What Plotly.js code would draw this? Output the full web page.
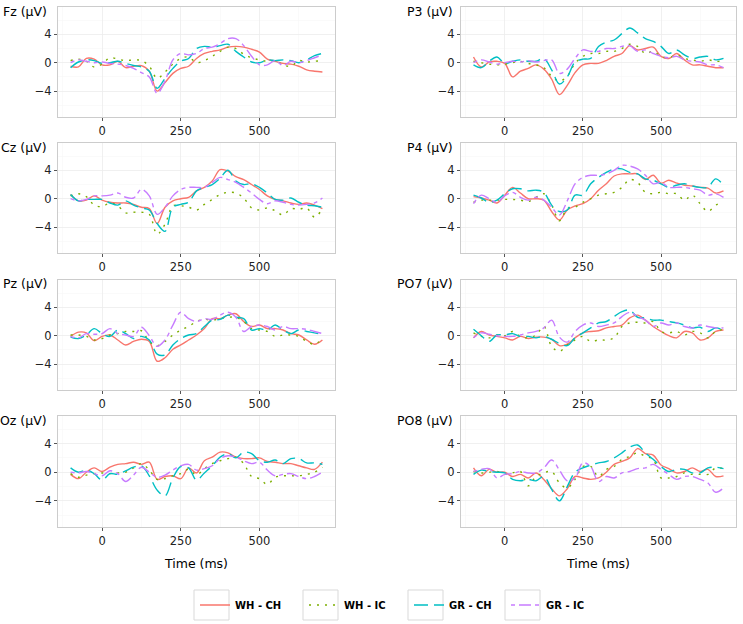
<!DOCTYPE html>
<html>
<head>
<meta charset="utf-8">
<script src="https://cdn.plot.ly/plotly-3.0.1.min.js"></script>
<style>
  html, body { margin: 0; padding: 0; background: #fff; }
  #chart { width: 743px; height: 624px; }
</style>
</head>
<body>
<div id="chart"></div>
<script>
// ERP grand averages, 8 electrodes x 4 conditions

const times = [-100, -75, -50, -25, 0, 25, 50, 75, 100, 125, 150, 175, 200, 225, 250, 275, 300,
  325, 350, 375, 400, 425, 450, 475, 500, 525, 550, 575, 600, 625, 650, 675, 700];

const conditions = ["WH - CH", "WH - IC", "GR - CH", "GR - IC"];
const electrodes = ["Fz", "P3", "Cz", "P4", "Pz", "PO7", "Oz", "PO8"];

// Fz
const fz_whch = [-0.5, -0.6, 0.6, 0.5, -0.3, -0.3, 0.2, -0.7, -0.5, -0.4, -1.2, -4.0, -2.8, -1.5, -0.8, -0.5, 0.6, 1.3, 1.6, 1.8, 2.2, 2.3, 2.2, 1.9, 1.5, 0.5, 0.2, -0.1, -0.2, -0.5, -1.0, -1.2, -1.3];
const fz_whic = [0.3, 0.5, 0.2, -0.6, -0.2, 0.7, 0.5, 0.3, 0.4, 0.3, -0.5, -2.2, -1.3, -0.2, 0.6, 0.8, 0.0, 0.3, 0.9, 1.6, 2.2, 2.0, 1.2, 0.7, 0.4, 0.2, 0.3, -0.3, -0.5, 0.3, 0.1, 0.2, 0.3];
const fz_grch = [-0.7, 0.1, 0.4, 0.3, -0.1, 0.0, 0.2, -0.1, -0.4, -0.6, -1.2, -3.6, -2.2, -0.8, 0.2, 0.6, 2.0, 2.3, 2.2, 2.4, 2.6, 1.6, 0.8, 0.1, 0.0, 0.4, 0.3, 0.4, 0.3, 0.0, 0.4, 1.0, 1.3];
const fz_gric = [0.0, 0.4, 0.2, 0.0, 0.1, -0.1, -0.2, -0.4, -0.8, -1.4, -2.0, -4.3, -2.6, 0.4, 1.3, 1.1, 1.3, 2.0, 2.2, 2.7, 3.4, 3.4, 2.4, 0.9, -0.3, -0.3, 0.3, -0.4, 0.2, 0.0, 0.3, 0.7, 1.1];

// P3
const p3_whch = [0.8, -0.6, 0.1, 0.2, -0.1, -2.0, -1.2, -0.8, -0.3, -0.9, -2.3, -4.5, -3.2, -1.4, -0.3, -0.1, -0.1, 0.3, 0.9, 1.3, 2.4, 1.8, 2.0, 2.2, 0.9, 0.6, 1.3, 0.4, -0.3, -0.3, -0.5, -0.7, -0.7];
const p3_whic = [0.2, 0.0, -0.2, -0.3, -0.2, 0.0, 0.2, -0.1, -0.3, -0.7, -1.9, -2.6, -1.9, -0.1, 0.9, 1.3, 1.3, 1.6, 1.6, 2.0, 2.6, 2.3, 1.3, 1.6, 0.9, 0.7, 1.1, 0.6, 0.4, 0.2, 0.4, 0.2, 0.2];
const p3_grch = [-0.3, -0.7, 0.2, 0.8, -0.1, 0.2, 0.4, 0.2, 0.2, 0.6, -1.0, -3.0, -2.0, 0.1, 0.5, 0.6, 2.3, 2.9, 3.2, 4.1, 4.9, 4.2, 3.4, 3.0, 2.3, 1.3, 1.8, 1.1, 0.6, 0.8, 0.9, 0.4, 0.6];
const p3_gric = [0.0, 0.4, 0.1, -0.2, 0.0, 0.2, 0.1, 0.3, 0.1, 0.3, 0.4, -1.5, -0.9, 0.6, 1.8, 1.6, 1.6, 2.0, 2.0, 2.3, 2.4, 1.6, 1.8, 1.3, 0.9, 0.7, 0.9, 0.4, 0.2, 0.1, -0.3, -0.3, -0.7];

// Cz
const cz_whch = [0.6, -0.3, -0.2, 0.4, -0.2, -0.5, -0.6, -0.6, -0.8, -1.2, -1.4, -3.5, -1.2, -0.3, 0.0, 0.2, 1.1, 1.6, 2.5, 4.1, 3.9, 3.1, 2.7, 2.0, 1.3, 0.4, -0.1, -0.3, -0.6, -0.8, -0.6, -0.9, -1.4];
const cz_whic = [0.4, 0.7, 0.3, -0.9, -1.1, -0.6, -1.0, -2.0, -1.9, -1.9, -2.2, -5.0, -3.6, -1.0, -1.0, -1.2, -1.6, -0.8, -0.1, 0.6, 0.9, 0.8, 0.1, -1.3, -1.6, -1.3, -1.7, -2.3, -1.4, -1.5, -1.3, -2.6, -1.4];
const cz_grch = [0.6, -0.3, -0.1, -0.1, -0.1, -0.6, -0.9, -0.3, -0.9, -1.3, -1.6, -3.5, -4.6, -1.2, -0.8, -0.5, 1.1, 1.6, 2.0, 2.9, 4.0, 2.5, 2.0, 2.1, 1.6, 0.8, -0.1, -0.2, 0.1, -0.5, -0.9, -1.0, -1.2];
const cz_gric = [0.0, -0.3, -0.1, 0.4, 0.4, 0.5, 0.8, 0.2, 0.1, 1.3, 0.4, -2.2, -1.2, 0.4, 1.3, 1.6, 1.6, 1.6, 2.3, 3.0, 2.7, 2.3, 1.6, 0.8, -0.1, -0.7, -0.3, -0.5, -0.8, -0.9, -0.8, -0.6, 0.1];

// P4
const p4_whch = [0.3, 0.1, -0.2, -0.6, 0.5, 1.6, 0.8, 0.0, 0.0, -0.2, -1.8, -3.0, -1.6, -1.0, -0.7, 0.0, 1.2, 2.1, 3.2, 3.5, 3.5, 3.5, 2.7, 3.3, 2.2, 2.6, 2.2, 1.9, 1.8, 1.6, 1.5, 0.8, 1.1];
const p4_whic = [-0.5, -0.2, -0.2, -0.2, -0.1, -0.1, -0.2, -0.4, 0.2, 0.7, -0.9, -3.1, -1.4, -1.2, -0.5, 0.0, 0.5, 0.7, 0.9, 1.6, 2.7, 2.3, 0.9, 0.7, 0.9, 0.7, 0.7, -0.2, 0.5, -0.7, -1.8, -0.9, -0.5];
const p4_grch = [0.5, 0.1, -0.5, -0.2, 0.7, 1.4, 1.4, 1.1, 1.2, 0.9, -0.9, -1.8, -1.6, 0.5, 0.5, 2.1, 3.0, 3.7, 4.2, 4.2, 3.7, 3.5, 2.8, 2.6, 2.1, 1.6, 1.9, 2.1, 1.8, 1.6, 1.6, 2.8, 1.9];
const p4_gric = [-0.7, 0.5, 0.0, -0.5, 0.4, 0.9, 0.2, -0.2, 0.2, -0.2, -1.2, -2.3, -0.3, 2.1, 3.0, 3.3, 3.3, 3.5, 4.0, 4.7, 4.6, 4.2, 3.3, 2.1, 2.3, 1.6, 1.6, 1.6, 1.4, 1.2, 0.5, 0.7, 0.2];

// Pz
const pz_whch = [-0.1, 0.5, 0.4, -0.7, -0.1, 0.1, -0.6, -1.3, -0.8, -0.5, -0.8, -3.6, -3.1, -1.9, -1.3, -0.6, 0.1, 1.0, 2.4, 2.4, 2.9, 3.1, 2.0, 1.3, 1.5, 1.0, 1.0, 0.8, 0.3, 0.1, -0.6, -1.2, -0.6];
const pz_whic = [0.1, 0.1, -0.1, -0.6, -0.4, 0.1, 0.3, 0.6, 0.6, 0.7, -0.8, -1.4, -0.8, 0.1, 0.8, 1.3, 2.0, 2.3, 2.2, 2.4, 2.6, 2.6, 2.0, 1.0, 0.8, 0.6, -0.1, 0.1, 0.1, -0.1, -0.8, -1.2, -0.4];
const pz_grch = [-0.2, -0.4, 0.1, 1.0, 0.3, -0.1, 0.8, 0.3, -0.4, -0.1, -0.6, -2.6, -2.7, -1.3, -0.4, 0.1, 0.3, 1.3, 2.2, 2.3, 2.9, 2.6, 2.4, 0.8, 1.0, 0.8, 1.5, 0.8, 0.3, 0.8, 0.6, 0.4, 0.2];
const pz_gric = [-0.1, -0.3, 0.3, 0.2, 0.3, 1.0, 0.3, 0.1, -0.1, 1.2, 0.0, -1.5, -0.6, 1.5, 3.3, 2.4, 2.0, 2.4, 2.3, 2.9, 3.3, 2.6, 0.6, 1.3, 1.5, 1.3, 0.8, 1.3, 1.0, 1.0, 0.9, 0.6, 0.3];

// PO7
const po7_whch = [-0.3, 0.6, 0.1, -0.1, -0.3, -0.6, -0.1, -0.4, -0.2, -0.2, -0.5, -1.4, -1.2, -0.3, 0.4, 0.6, 0.7, 1.1, 1.3, 1.5, 2.5, 2.9, 2.2, 1.3, 0.6, 0.0, -0.3, 0.6, 0.4, -0.6, -0.3, 0.6, 0.8];
const po7_whic = [0.4, -0.1, -0.3, 0.1, 0.0, 0.6, -0.1, -0.3, 0.1, 1.3, -1.5, -2.2, -1.3, -0.6, -0.1, -0.8, -0.6, -0.6, -0.3, 1.3, 1.8, 1.9, 1.8, 2.0, 0.6, 0.4, 0.6, 0.1, 0.6, 0.4, -0.3, 0.6, 0.9];
const po7_grch = [0.9, 0.0, -0.8, 0.1, 0.1, 0.3, -0.1, -0.1, -0.3, -0.1, -0.5, -1.1, -1.4, -0.3, 0.4, 1.1, 1.8, 2.0, 2.7, 3.4, 3.6, 2.6, 2.5, 2.2, 2.2, 2.0, 1.8, 1.5, 1.1, 1.2, 0.6, 1.1, 0.8];
const po7_gric = [-0.3, 0.4, 0.2, 0.0, -0.1, -0.1, 0.1, 0.4, 0.6, 1.1, 2.2, -0.2, -0.9, 0.6, 1.5, 1.8, 1.3, 1.5, 1.8, 2.7, 3.3, 2.7, 2.2, 1.3, 1.8, 1.5, 1.8, 1.3, 1.1, 1.5, 1.3, 1.1, 1.1];

// Oz
const oz_whch = [-0.3, -0.9, 0.0, 0.6, 0.1, 0.7, 1.1, 1.2, 1.4, 1.1, 1.4, -1.0, -0.6, -0.5, -0.9, 0.6, -0.1, 1.6, 2.1, 2.8, 2.7, 2.1, 1.9, 1.9, 2.0, 1.5, 1.4, 1.2, 1.2, 0.9, 0.6, 0.4, 1.4];
const oz_whic = [-0.2, -0.7, -0.4, -0.2, -0.1, -0.2, -0.1, 0.0, 0.6, 1.2, 0.3, -1.0, -0.9, -0.5, -0.2, 0.4, -0.4, 0.5, 1.2, 1.6, 1.9, 2.1, 1.2, -0.6, -0.9, -1.7, -0.7, -0.5, -0.5, -0.5, -0.3, 0.0, 0.7];
const oz_grch = [0.6, 0.0, 0.3, -0.2, -1.1, -0.2, -0.3, 0.2, 0.7, 0.9, -0.5, -2.5, -3.3, -0.8, 0.8, 0.6, -1.1, -0.1, 0.9, 2.1, 2.6, 2.0, 2.8, 2.6, 1.6, 1.4, 1.7, 1.2, 1.9, 1.9, 1.3, 1.3, 1.1];
const oz_gric = [0.0, -0.1, 0.1, -0.2, -0.5, 0.2, -0.2, -1.3, -0.4, 0.7, 0.0, -0.7, -0.4, 0.3, 0.9, 1.1, 0.3, 0.5, 0.9, 1.9, 2.3, 2.1, 1.6, 1.2, 1.4, 0.3, -0.5, -0.3, -0.2, -0.6, -0.9, -0.6, 0.0];

// PO8
const po8_whch = [0.6, -0.5, 0.4, 0.0, 0.0, -0.6, -0.3, -0.8, -0.1, -1.0, -2.3, -3.3, -2.3, -0.6, -0.8, -1.0, -0.8, 0.0, 1.1, 1.5, 2.0, 3.3, 2.6, 2.4, 1.0, 0.5, -0.1, 0.1, 0.6, 0.1, 0.4, -0.6, -0.5];
const po8_whic = [0.1, -0.1, 0.0, 0.1, -0.3, -0.1, 0.1, -1.9, -0.6, -0.1, 0.1, -1.5, -2.2, -1.0, 0.8, 0.8, -0.6, 0.4, 0.8, 1.8, 2.2, 2.7, 2.2, 1.8, -0.8, -0.8, -0.6, -0.1, -0.3, -0.3, -0.3, 0.6, 0.5];
const po8_grch = [-0.3, 0.3, 0.1, 0.0, -0.1, -1.0, -1.2, -1.0, -1.2, -0.6, -2.4, -4.0, -2.0, 0.0, 0.6, 1.0, 1.3, 1.5, 2.0, 2.7, 3.5, 3.8, 2.7, 1.8, 0.8, 0.1, 0.4, 0.4, -0.1, -0.1, 0.6, 0.7, 0.5];
const po8_gric = [0.1, 0.4, 0.5, -0.8, -0.3, -0.2, 0.1, -0.1, -0.1, 0.6, 1.7, 0.3, -1.2, -0.8, 1.3, 0.8, -1.3, -0.6, -0.8, -0.1, 0.1, 0.5, 0.6, 1.1, 0.4, -0.3, -1.0, -0.6, -0.6, -1.0, -1.5, -2.8, -2.2];

const panelData = [
  [fz_whch, fz_whic, fz_grch, fz_gric],
  [p3_whch, p3_whic, p3_grch, p3_gric],
  [cz_whch, cz_whic, cz_grch, cz_gric],
  [p4_whch, p4_whic, p4_grch, p4_gric],
  [pz_whch, pz_whic, pz_grch, pz_gric],
  [po7_whch, po7_whic, po7_grch, po7_gric],
  [oz_whch, oz_whic, oz_grch, oz_gric],
  [po8_whch, po8_whic, po8_grch, po8_gric]
];

const colors = ["#F8766D", "#7CAE00", "#00BFC4", "#C77CFF"];
// ggplot linetypes: solid, dotted ("13"), longdash ("73"), twodash ("2262")
const dashes = ["solid", "2px,6px", "14px,6px", "4px,4px,12px,4px"];

const W = 743, H = 624;
const FONT = "DejaVu Sans, Verdana, sans-serif";

// panel positions in pixels (left col / right col, rows top->bottom)
const colX = [[58, 335], [461, 736]];
const rowY = [[7, 117], [143, 253], [280, 390], [416, 527]];
const titleRight = [49, 455];
// legend text start positions (px) for each condition
const legendTextX = [235, 344, 449, 546];

var data = [];
var layout = {
  width: W,
  height: H,
  margin: { l: 0, r: 0, t: 0, b: 0 },
  paper_bgcolor: "#fff",
  plot_bgcolor: "#fff",
  font: { family: FONT, size: 11.5, color: "#1a1a1a" },
  showlegend: true,
  annotations: [],
  shapes: []
};

// one legend per condition so each key can sit in its own box
for (let s = 0; s < 4; s++) {
  const key = s === 0 ? "legend" : "legend" + (s + 1);
  layout[key] = {
    orientation: "h",
    x: (legendTextX[s] - 40) / W,
    xanchor: "left",
    y: 1 - 605 / H,
    yanchor: "middle",
    font: { family: FONT, size: 10, color: "#000", weight: "bold" },
    bgcolor: "rgba(0,0,0,0)",
    borderwidth: 0
  };
  layout.shapes.push({
    type: "rect", xref: "paper", yref: "paper", layer: "below",
    x0: (legendTextX[s] - 41) / W, x1: (legendTextX[s] - 6) / W,
    y0: 1 - 620 / H, y1: 1 - 590 / H,
    line: { color: "#d9d9d9", width: 1 },
    fillcolor: "rgba(0,0,0,0)"
  });
}

for (let p = 0; p < 8; p++) {
  const col = p % 2, row = Math.floor(p / 2);
  const n = p + 1;
  const xa = n === 1 ? "x" : "x" + n;
  const ya = n === 1 ? "y" : "y" + n;

  for (let s = 0; s < 4; s++) {
    data.push({
      x: times,
      y: panelData[p][s],
      xaxis: xa,
      yaxis: ya,
      type: "scatter",
      mode: "lines",
      name: conditions[s],
      legend: s === 0 ? "legend" : "legend" + (s + 1),
      showlegend: p === 0,
      line: { color: colors[s], dash: dashes[s], width: 1.4, shape: "spline", smoothing: 1 },
      hoverinfo: "skip"
    });
  }

  const xKey = n === 1 ? "xaxis" : "xaxis" + n;
  const yKey = n === 1 ? "yaxis" : "yaxis" + n;
  layout[xKey] = {
    domain: [colX[col][0] / W, colX[col][1] / W],
    anchor: ya,
    range: [-140, 740],
    tickmode: "linear",
    tick0: 0,
    dtick: 250,
    ticks: "outside",
    ticklen: 3,
    tickcolor: "#555",
    tickfont: { family: FONT, size: 11.5, color: "#222" },
    showgrid: true,
    gridcolor: "#ececec",
    gridwidth: 0.8,
    minor: { dtick: 125, tick0: 0, showgrid: true, gridcolor: "#f6f6f6", gridwidth: 0.6, ticks: "" },
    zeroline: false,
    showline: true,
    mirror: true,
    linecolor: "#cccccc",
    linewidth: 1
  };
  if (row === 3) {
    layout[xKey].title = { text: "Time (ms)", font: { family: FONT, size: 12.5, color: "#000" }, standoff: 12 };
  }
  layout[yKey] = {
    domain: [1 - rowY[row][1] / H, 1 - rowY[row][0] / H],
    anchor: xa,
    range: [-7.65, 7.85],
    tickmode: "linear",
    tick0: 0,
    dtick: 4,
    ticks: "outside",
    ticklen: 3,
    tickcolor: "#555",
    tickfont: { family: FONT, size: 11.5, color: "#222" },
    showgrid: true,
    gridcolor: "#ececec",
    gridwidth: 0.8,
    minor: { dtick: 2, tick0: 0, showgrid: true, gridcolor: "#f6f6f6", gridwidth: 0.6, ticks: "" },
    zeroline: false,
    showline: true,
    mirror: true,
    linecolor: "#cccccc",
    linewidth: 1
  };

  // electrode label top-left of each panel
  layout.annotations.push({
    text: electrodes[p] + " (μV)",
    xref: "paper", yref: "paper",
    x: titleRight[col] / W,
    y: 1 - (rowY[row][0] + 4) / H,
    xanchor: "right", yanchor: "middle",
    showarrow: false,
    font: { family: FONT, size: 12.5, color: "#000" }
  });
}

Plotly.newPlot("chart", data, layout, { displayModeBar: false, staticPlot: true });
</script>
</body>
</html>
